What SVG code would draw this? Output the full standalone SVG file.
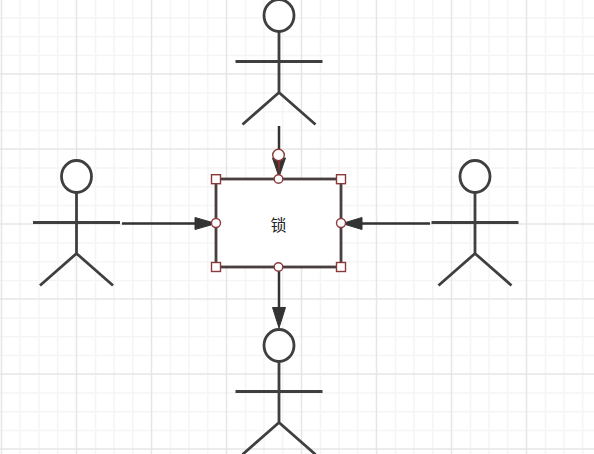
<svg xmlns="http://www.w3.org/2000/svg" width="594" height="454" viewBox="0 0 594 454">
<style>
.minor{stroke:#f5f5f5;stroke-width:1.6;fill:none}
.major{stroke:#e6e6e6;stroke-width:1.5;fill:none}
.fig{stroke:#3f3f3f;stroke-width:2.8;fill:none}
.head{stroke:#3f3f3f;stroke-width:2.8;fill:#fff}
.conn{stroke:#333;stroke-width:2.5;fill:none}
.ah{fill:#333;stroke:#333;stroke-width:1}
.h{fill:#fff;stroke:#8a3a3a;stroke-width:1.4}
</style>
<defs>
<g id="actor">
<ellipse class="head" cx="0" cy="-46" rx="15" ry="16"/>
<path class="fig" d="M0-30V31M-43.500 0H43.500M0 31L-36.500 63M0 31L36.500 63"/>
</g>
</defs>
<rect width="594" height="454" fill="#fff"/>
<path class="minor" d="M20 0V454M39 0V454M57.700 0V454M95.500 0V454M114 0V454M132.700 0V454M170.500 0V454M189 0V454M207.700 0V454M245.500 0V454M264 0V454M282.700 0V454M320.500 0V454M339 0V454M357.700 0V454M395.500 0V454M414 0V454M432.700 0V454M470.500 0V454M489 0V454M507.700 0V454M545.500 0V454M564 0V454M582.700 0V454"/>
<path class="minor" d="M0 18H594M0 36.700H594M0 55.500H594M0 93H594M0 111.700H594M0 130.500H594M0 168H594M0 186.700H594M0 205.500H594M0 243H594M0 261.700H594M0 280.500H594M0 318H594M0 336.700H594M0 355.500H594M0 393H594M0 411.700H594M0 430.500H594"/>
<path class="major" d="M1.500 0V454M76.500 0V454M151.500 0V454M226.500 0V454M301.500 0V454M376.500 0V454M451.500 0V454M526.500 0V454M0 74H594M0 149H594M0 224H594M0 299H594M0 374H594M0 449H594"/>
<g id="actor-top"><use href="#actor" x="279" y="61.500"/></g>
<g id="actor-left"><use href="#actor" x="76.500" y="222.500"/></g>
<g id="actor-right"><use href="#actor" x="475" y="222.500"/></g>
<g id="actor-bottom"><use href="#actor" x="279" y="391.500"/></g>
<g id="connectors">
<path class="conn" d="M279 126V160M122 223.500H200M430 223.500H358M279 268V312"/>
<path class="ah" d="M272.500 158L279 177L285.500 158Z"/>
<path d="M277.500 160L279 176L280.500 160Z" fill="#8c2f2f"/>
<path class="ah" d="M195 217.500L216 223.500L195 229.500Z"/>
<path class="ah" d="M362 217.500L342 223.500L362 229.500Z"/>
<path class="ah" d="M272.500 307.500L279 328L285.500 307.500Z"/>
</g>
<g id="lock">
<rect x="216" y="179" width="125" height="88" fill="#fff" stroke="#4a3f3f" stroke-width="2.8"/>
<text x="278.500" y="231" font-family="'Liberation Sans','Noto Sans CJK SC',sans-serif" font-size="16" fill="#222" text-anchor="middle">锁</text>
</g>
<g id="handles">
<rect class="h" x="211.500" y="174.700" width="9" height="9"/>
<rect class="h" x="336.500" y="174.700" width="9" height="9"/>
<rect class="h" x="211.500" y="262.500" width="9" height="9"/>
<rect class="h" x="336.500" y="262.500" width="9" height="9"/>
<circle class="h" cx="278.500" cy="179" r="4.300"/>
<circle class="h" cx="278.500" cy="267" r="4.300"/>
<circle class="h" cx="216" cy="223" r="4.500"/>
<circle class="h" cx="341" cy="223" r="4.500"/>
<circle class="h" cx="278.500" cy="155" r="5.800"/>
</g>
</svg>
